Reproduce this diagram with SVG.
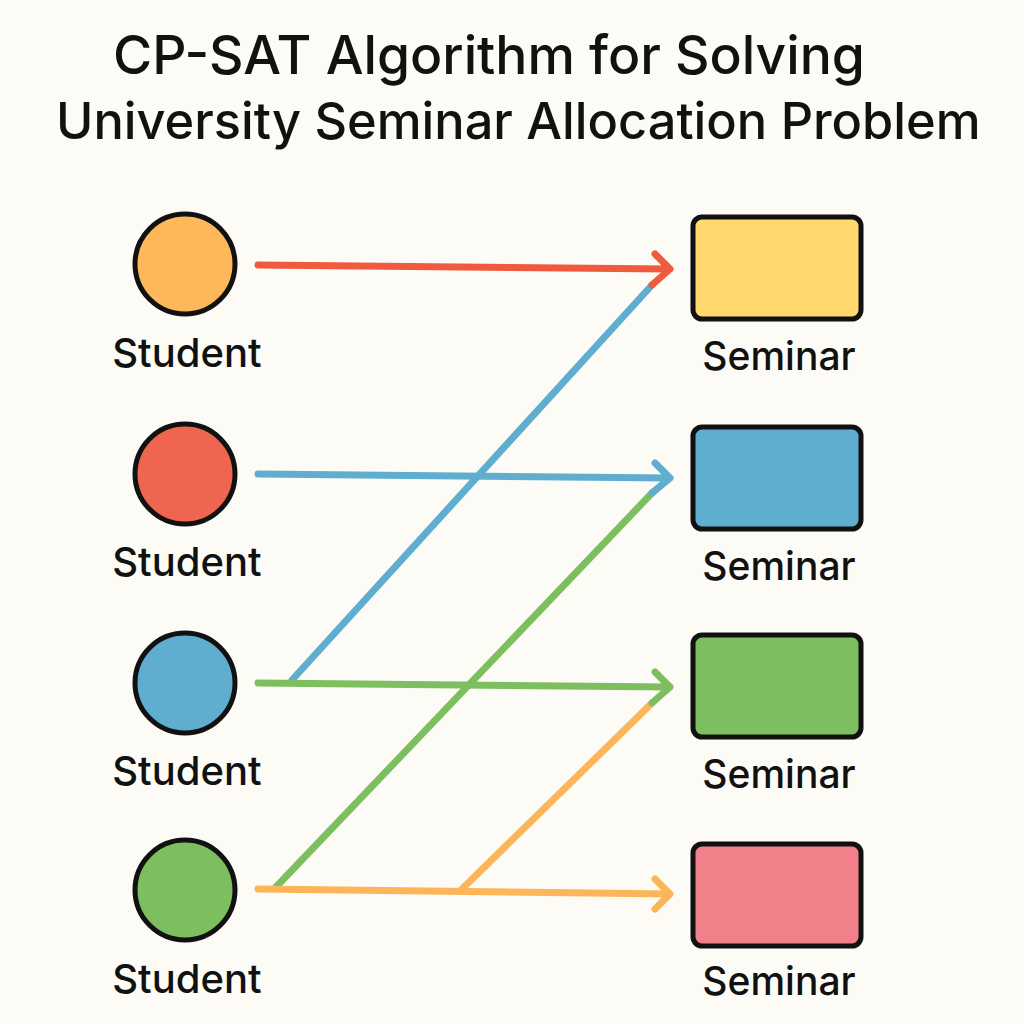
<svg xmlns="http://www.w3.org/2000/svg" width="1024" height="1024" viewBox="0 0 1024 1024">
<style>
.title{font-family:Inter,"Open Sans","Liberation Sans",sans-serif;font-weight:500;fill:#111}
.lbl{font-family:Inter,"Open Sans","Liberation Sans",sans-serif;font-weight:500;fill:#111;text-anchor:middle}
.s{font-size:40px}
.m{font-size:39px}
.stu{stroke:#111;stroke-width:5}
.sem{stroke:#111;stroke-width:5}
.c{fill:none;stroke-width:7;stroke-linecap:round;stroke-linejoin:round}
</style>
<rect width="1024" height="1024" fill="#FCFBF6"/>
<text class="title" x="113" y="74" font-size="53.4">CP-SAT Algorithm for Solving</text>
<text class="title" x="56" y="139" font-size="50.5">University Seminar Allocation Problem</text>
<g id="connectors">
<path class="c" stroke="#5FAECF" d="M292 680 L652 285"/>
<path class="c" stroke="#7DBE5E" d="M275 888 L652 493"/>
<path class="c" stroke="#FDB55A" d="M462 889 L652 703"/>
<path class="c" stroke="#F05A3E" d="M258 265 L670 269 M655 254 L670 269 L652 285"/>
<path class="c" stroke="#5FAECF" d="M258 474 L670 478 M655 463 L670 478 L652 493"/>
<path class="c" stroke="#7DBE5E" d="M258 683 L670 687 M655 672 L670 687 L652 703"/>
<path class="c" stroke="#FDB55A" d="M258 889 L670 894 M655 879 L670 894 L655 909"/>
</g>
<g id="student1"><circle class="stu" cx="185" cy="264" r="50" fill="#FDB85A"/><text class="lbl s" x="187" y="367">Student</text></g>
<g id="student2"><circle class="stu" cx="185" cy="474" r="50" fill="#F0654F"/><text class="lbl s" x="187" y="576">Student</text></g>
<g id="student3"><circle class="stu" cx="185" cy="683" r="50" fill="#5FAECF"/><text class="lbl s" x="187" y="785">Student</text></g>
<g id="student4"><circle class="stu" cx="185" cy="890" r="50" fill="#7DBE5E"/><text class="lbl s" x="187" y="993">Student</text></g>
<g id="seminar1"><rect class="sem" x="693" y="217" width="168" height="102" rx="9" fill="#FFD96E"/><text class="lbl m" x="779" y="370">Seminar</text></g>
<g id="seminar2"><rect class="sem" x="693" y="427" width="168" height="102" rx="9" fill="#5FAECF"/><text class="lbl m" x="779" y="580">Seminar</text></g>
<g id="seminar3"><rect class="sem" x="693" y="635" width="168" height="102" rx="9" fill="#7DBE5E"/><text class="lbl m" x="779" y="788">Seminar</text></g>
<g id="seminar4"><rect class="sem" x="693" y="844" width="168" height="102" rx="9" fill="#F2808A"/><text class="lbl m" x="779" y="995">Seminar</text></g>
</svg>
